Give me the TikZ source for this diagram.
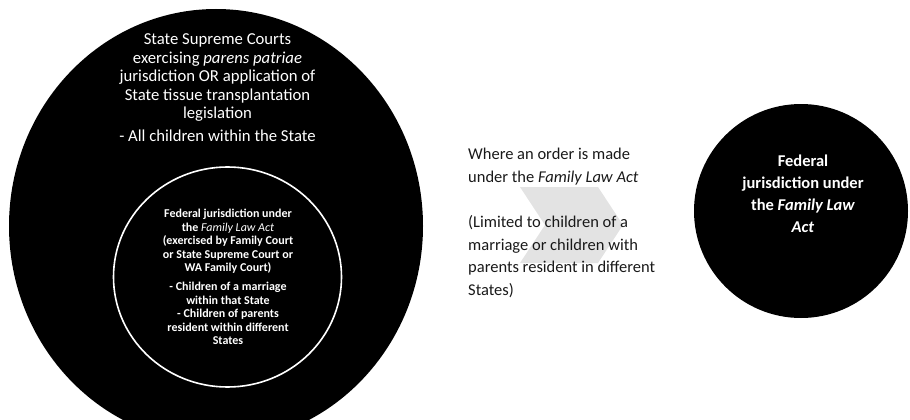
\documentclass[tikz,border=0pt]{standalone}
\usepackage{fontspec}
\setmainfont{Carlito}
\begin{document}
\begin{tikzpicture}[x=1pt,y=-1pt,
  whitetxt/.style={text=white,align=center,inner sep=0pt},
  bigfont/.style={font=\fontsize{16.7}{18.4}\selectfont},
  smallfont/.style={font=\bfseries\fontsize{12}{13.6}\selectfont},
  midfont/.style={font=\fontsize{16.5}{22.7}\selectfont},
  rightfont/.style={font=\bfseries\fontsize{16.5}{22}\selectfont}]
\useasboundingbox (0,0) rectangle (910,420);
\clip (0,0) rectangle (910,420);
% big ellipse
\fill[black] (216,226) ellipse [x radius=207pt, y radius=217pt];
% inner ellipse outline
\draw[white,line width=1.6pt] (227.5,277) ellipse [x radius=114pt, y radius=110pt];
% right circle
\fill[black] (801,211) circle [radius=107pt];
% chevron
\fill[black!11] (520,187) -- (598,187) -- (623,225) -- (598,263) -- (520,263) -- (545,225) -- cycle;
% texts
\node[whitetxt,bigfont] (state) at (217.5,88)
  {State Supreme Courts\\ exercising \textit{parens patriae}\\ jurisdiction OR application of\\ State tissue transplantation\\ legislation\\[5pt] - All children within the State};
\node[whitetxt,smallfont] (fed) at (228,277)
  {Federal jurisdiction under\\ the \textit{\mdseries Family Law Act}\\ (exercised by Family Court\\ or State Supreme Court or\\ WA Family Court)\\[5pt] - Children of a marriage\\ within that State\\ - Children of parents\\ resident within different\\ States};
\node[inner sep=0pt,align=left,anchor=west,midfont,text=black!90] (order) at (468,223)
  {Where an order is made\\ under the \textit{Family Law Act}\\[22.7pt] (Limited to children of a\\ marriage or children with\\ parents resident in different\\ States)};
\node[whitetxt,rightfont] (fla) at (803,193.5)
  {Federal\\ jurisdiction under\\ the \textit{Family Law}\\ \textit{Act}};
\end{tikzpicture}
\end{document}
